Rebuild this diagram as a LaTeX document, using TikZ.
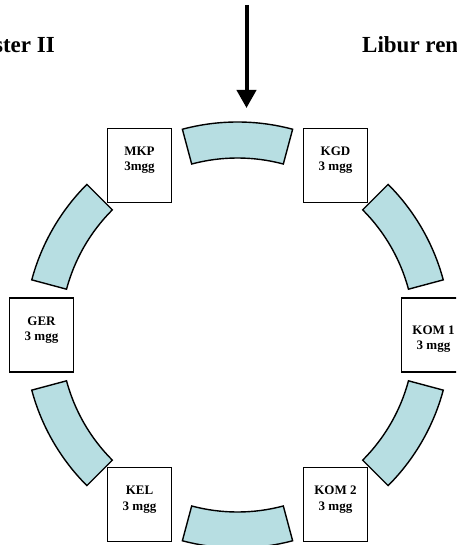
\documentclass[tikz,border=0pt]{standalone}
\usepackage{fontspec}
\setmainfont{Liberation Serif}
\usetikzlibrary{arrows.meta,calc}
\definecolor{segfill}{RGB}{183,222,226}
\begin{document}
\begin{tikzpicture}[x=1pt,y=1pt,
 box/.style={draw=black, line width=1.4pt, minimum width=64pt, minimum height=74pt, inner sep=0pt, fill=white},
 lbl/.style={font=\fontsize{13}{15.5}\selectfont\bfseries, align=center, inner sep=0pt, anchor=north},
 seg/.style={draw=black, line width=1.4pt, fill=segfill, line join=miter},
 title/.style={font=\fontsize{23}{26}\selectfont\bfseries, inner sep=0pt}]
\useasboundingbox (0,0) rectangle (456,-545);
\clip (0,0) rectangle (456,-545);
\coordinate (C) at (237.5,-335);
\foreach \a in {30,90,150,210,270,330} {
  \draw[seg, shift={(C)}] (\a-15:177pt) -- (\a-15:213pt)
     arc[start angle=\a-15, end angle=\a+15, radius=213pt]
     -- (\a+15:177pt)
     arc[start angle=\a+15, end angle=\a-15, radius=177pt] -- cycle;
}
\node[box] (kom1) at ($(C)+(0:196pt)$) {};
\node[box] (kgd)  at ($(C)+(60:196pt)$) {};
\node[box] (mkp)  at ($(C)+(120:196pt)$) {};
\node[box] (ger)  at ($(C)+(180:196pt)$) {};
\node[box] (kel)  at ($(C)+(240:196pt)$) {};
\node[box] (kom2) at ($(C)+(300:196pt)$) {};
\node[lbl] (kom1t) at ([yshift=-28pt]kom1.north) {KOM 1\\3 mgg};
\node[lbl] (kgdt)  at ([yshift=-19pt]kgd.north) {KGD\\3 mgg};
\node[lbl] (mkpt)  at ([yshift=-19pt]mkp.north) {MKP\\3mgg};
\node[lbl] (gert)  at ([yshift=-19pt]ger.north) {GER\\3 mgg};
\node[lbl] (kelt)  at ([yshift=-19pt]kel.north) {KEL\\3 mgg};
\node[lbl] (kom2t) at ([yshift=-19pt]kom2.north) {KOM 2\\3 mgg};
\coordinate (atop) at (246.5,-5);
\coordinate (atip) at (246.5,-108);
\draw[line width=4pt, -{Triangle[length=18pt,width=19pt]}] (atop) -- (atip);
\node[title, anchor=base east] (t1) at (55,-53) {ster II};
\node[title, anchor=base west] (t2) at (362,-53) {Libur ren};
\end{tikzpicture}
\end{document}
